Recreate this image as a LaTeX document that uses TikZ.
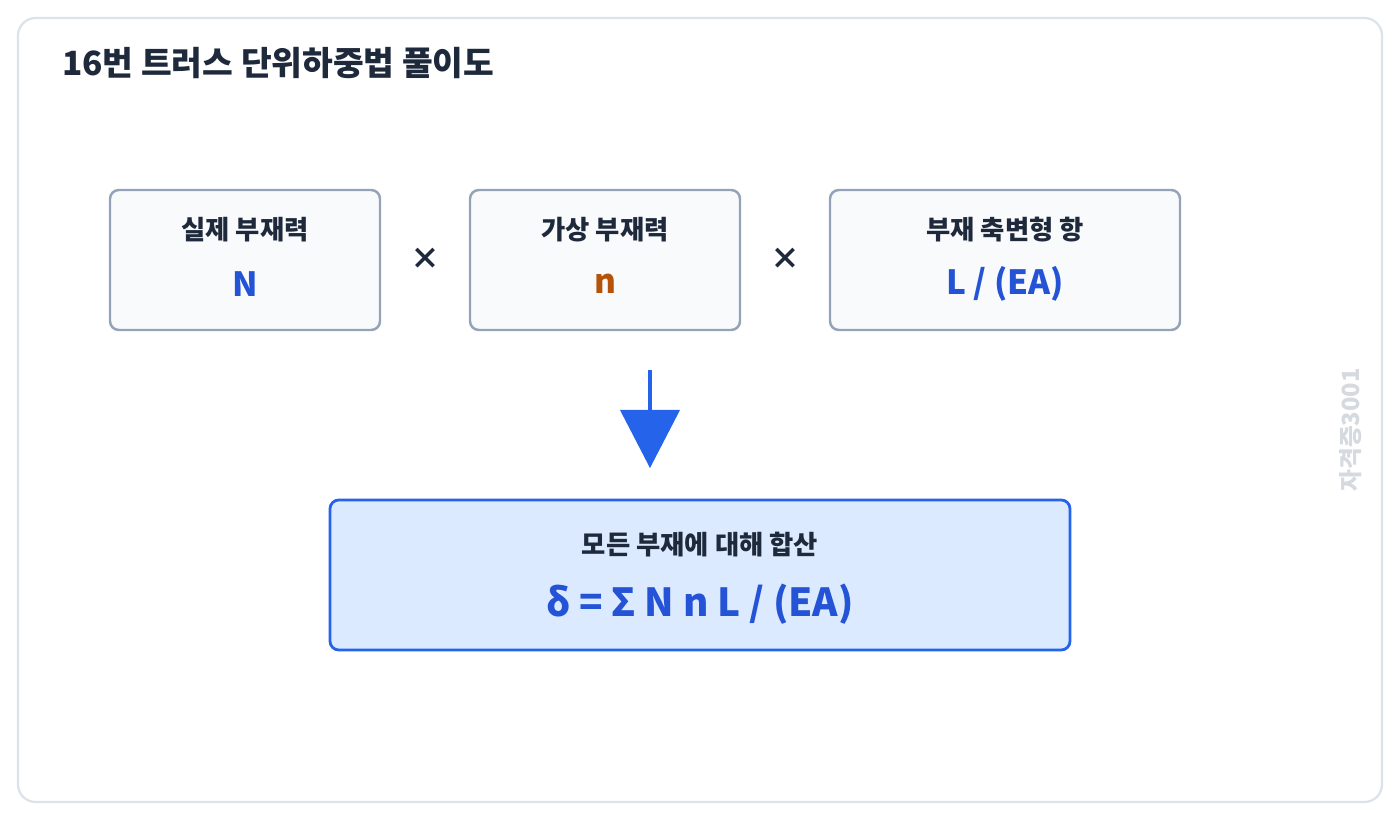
\documentclass[tikz,border=0pt]{standalone}
\usepackage{fontspec}
\setmainfont{Noto Sans CJK KR}
\usetikzlibrary{positioning}
\definecolor{frameC}{HTML}{DDE3EA}
\definecolor{boxC}{HTML}{F8FAFC}
\definecolor{edgeC}{HTML}{94A3B8}
\definecolor{inkC}{HTML}{1E293B}
\definecolor{blueC}{HTML}{2453D6}
\definecolor{arrC}{HTML}{2563EB}
\definecolor{orangeC}{HTML}{B45309}
\definecolor{sumC}{HTML}{DBEAFE}
\definecolor{markC}{HTML}{D5DAE0}
\tikzset{
  factor/.style={draw=edgeC, fill=boxC, line width=1.4pt, rounded corners=5pt},
  caption/.style={font=\bfseries\fontsize{15pt}{17pt}\selectfont, text=inkC},
  value/.style={font=\bfseries\fontsize{19pt}{21pt}\selectfont},
  times/.style={font=\bfseries\fontsize{17pt}{19pt}\selectfont, text=inkC}
}
\begin{document}
\begin{tikzpicture}[x=0.02cm, y=-0.02cm]

    % Frame
    \path[use as bounding box] (0,0) rectangle (1400,820);
    \draw[frameC, line width=1.3pt, rounded corners=10pt, fill=white] (18,18) rectangle (1382,802);
    \node[anchor=west, font=\bfseries\fontsize{19pt}{21pt}\selectfont, text=inkC] (title) at (56,63) {16번 트러스 단위하중법 풀이도};

    % Factor boxes
    \draw[factor] (110,190) rectangle (380,330);
    \draw[factor] (470,190) rectangle (740,330);
    \draw[factor] (830,190) rectangle (1180,330);
    \node[caption] (realcap) at (245,230) {실제 부재력};
    \node[value, text=blueC] (realval) at (245,284) {N};
    \node[caption] (virtcap) at (605,230) {가상 부재력};
    \node[value, text=orangeC] (virtval) at (605,284) {n};
    \node[caption] (axcap) at (1005,230) {부재 축변형 항};
    \node[value, text=blueC] (axval) at (1005,284) {L / (EA)};
    \node[times] (x1) at (425,259) {×};
    \node[times] (x2) at (785,259) {×};

    % Arrow down
    \coordinate (top) at (650,370);
    \coordinate (tip) at (650,468);
    \draw[arrC, line width=2.6pt] (top) -- (650,420);
    \fill[arrC] (620,410) -- (680,410) -- (tip) -- cycle;

    % Sum box
    \draw[draw=arrC, fill=sumC, line width=1.6pt, rounded corners=5pt] (330,500) rectangle (1070,650);
    \node[caption] (sumcap) at (700,545) {모든 부재에 대해 합산};
    \node[font=\bfseries\fontsize{22pt}{24pt}\selectfont, text=blueC] (sumval) at (700,604) {δ = Σ N n L / (EA)};

    % Watermark
    \node[rotate=90, font=\bfseries\fontsize{13.5pt}{15pt}\selectfont, text=markC] (mark) at (1351,430) {자격증3001};

\end{tikzpicture}
\end{document}
